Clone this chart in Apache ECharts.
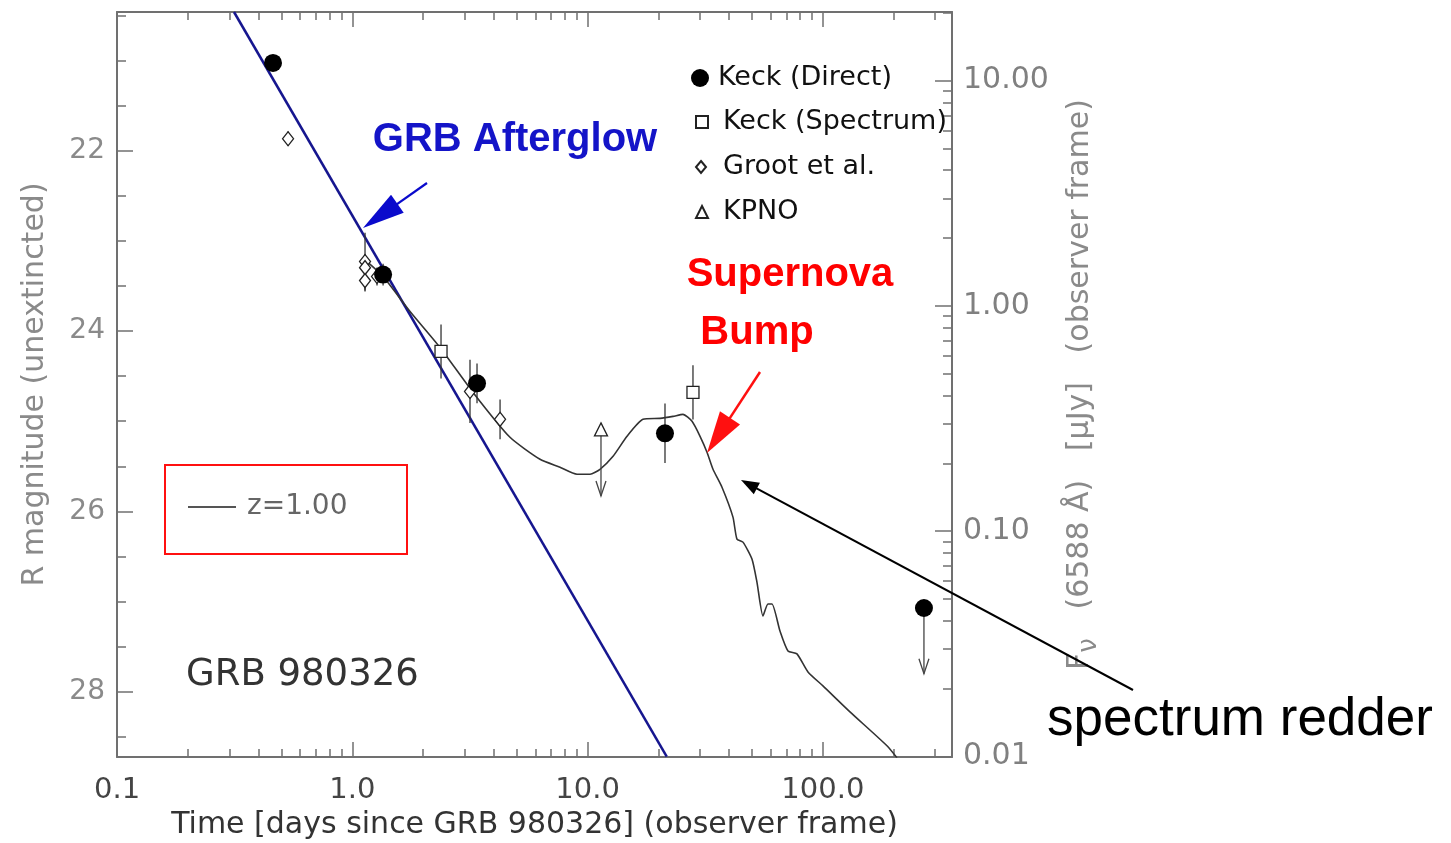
<!DOCTYPE html>
<html>
<head>
<meta charset="utf-8">
<script src="https://cdn.jsdelivr.net/npm/echarts@6/dist/echarts.min.js"></script>
<style>html,body{margin:0;padding:0;background:#fff}#c{width:1451px;height:843px}</style>
</head>
<body>
<div id="c"></div>
<script>
// ---------------- data ----------------
const keckDirectT   = [0.460, 1.351, 3.388, 21.33];
const keckDirectMag = [21.025, 23.373, 24.580, 25.134];
const keckDirectErr = [0.0, 0.12, 0.22, 0.33];
const keckLimitT    = [269.0];
const keckLimitMag  = [27.072];
const keckLimitDrop = [0.73];
const keckSpecT     = [2.382, 28.05];
const keckSpecMag   = [24.226, 24.680];
const keckSpecErr   = [0.30, 0.30];
const grootT        = [0.533, 1.132, 1.132, 1.132, 1.273, 3.163, 4.245];
const grootMag      = [21.867, 23.229, 23.296, 23.440, 23.395, 24.669, 24.979];
const grootErr      = [0.08, 0.32, 0.15, 0.12, 0.10, 0.35, 0.22];
const kpnoT         = [11.40];
const kpnoMag       = [25.090];
const kpnoDrop      = [0.74];
const afterglowT    = [0.314, 21.7];
const afterglowMag  = [20.46, 28.72];
const modelT   = [1.155, 1.351, 1.759, 2.358, 3.258, 4.679, 6.276, 7.631, 9.016, 10.24, 11.29, 12.83, 14.71, 17.20, 20.32, 23.07, 25.44, 27.79, 30.06, 32.18, 34.12, 37.26, 41.49, 43.14, 45.75, 49.96, 52.46, 55.65, 58.44, 60.77, 65.73, 71.08, 77.62, 86.45, 100.1, 130.4, 187.3, 206.5];
const modelMag = [23.229, 23.395, 23.783, 24.182, 24.680, 25.178, 25.422, 25.510, 25.588, 25.588, 25.533, 25.389, 25.167, 24.979, 24.968, 24.946, 24.924, 25.001, 25.167, 25.344, 25.533, 25.732, 26.064, 26.308, 26.341, 26.529, 26.784, 27.161, 27.028, 27.028, 27.327, 27.548, 27.581, 27.781, 27.936, 28.224, 28.600, 28.733];

const xLabelValues   = [0.1, 1, 10, 100];
const xMinorValues   = [0.2,0.3,0.4,0.5,0.6,0.7,0.8,0.9, 2,3,4,5,6,7,8,9, 20,30,40,50,60,70,80,90, 200,300];
const magLabelValues = [22, 24, 26, 28];
const magMinorValues = [20.5,21,21.5, 22.5,23,23.5, 24.5,25,25.5, 26.5,27,27.5, 28.5];
const fluxLabelValues = [10, 1, 0.1, 0.01];
const fluxMinorValues = [20, 9,8,7,6,5,4,3,2, 0.9,0.8,0.7,0.6,0.5,0.4,0.3,0.2, 0.09,0.08,0.07,0.06,0.05,0.04,0.03,0.02];
const R_ZERO_POINT = 23.72; // R mag of 1 microJy

// ---------------- helpers ----------------
const zip = (a, b, c) => a.map((v, i) => c ? [v, b[i], c[i]] : [v, b[i]]);
const fluxToMag = f => R_ZERO_POINT - 2.5 * Math.log10(f);
const magToFlux = m => Math.pow(10, -0.4 * (m - R_ZERO_POINT));

const FONT = 'DejaVu Sans';
const AX = '#707070';
const X_MIN = 0.0999, X_MAX = 354;
const Y_MIN = 20.46, Y_MAX = 28.725;

function xAx(pos, major, withLabel) {
  return {
    type: 'log', logBase: 10, position: pos, min: X_MIN, max: X_MAX,
    axisLine: { show: major, onZero: false, lineStyle: { color: AX, width: 2 } },
    axisTick: { show: true, inside: true, length: major ? 15 : 8,
      customValues: major ? xLabelValues : xMinorValues, lineStyle: { color: AX, width: 1.5 } },
    axisLabel: withLabel ? { show: true, customValues: xLabelValues, margin: 19,
      formatter: v => Number(v).toFixed(1), fontSize: 29, color: '#444', fontFamily: FONT } : { show: false },
    splitLine: { show: false }, minorTick: { show: false }, minorSplitLine: { show: false }
  };
}
function yMagAx(major) {
  return {
    type: 'value', position: 'left', inverse: true, min: Y_MIN, max: Y_MAX,
    axisLine: { show: major, onZero: false, lineStyle: { color: AX, width: 2 } },
    axisTick: { show: true, inside: true, length: major ? 16 : 9,
      customValues: major ? magLabelValues : magMinorValues, lineStyle: { color: AX, width: 1.5 } },
    axisLabel: major ? { show: true, customValues: magLabelValues, margin: 12, fontSize: 28,
      color: '#8a8a8a', fontFamily: FONT } : { show: false },
    splitLine: { show: false }
  };
}
function yFluxAx(major) {
  return {
    type: 'value', position: 'right', inverse: true, min: Y_MIN, max: Y_MAX,
    axisLine: { show: major, onZero: false, lineStyle: { color: AX, width: 2 } },
    axisTick: { show: true, inside: true, length: major ? 17 : 9,
      customValues: (major ? fluxLabelValues : fluxMinorValues).map(fluxToMag), lineStyle: { color: AX, width: 1.5 } },
    axisLabel: major ? { show: true, customValues: fluxLabelValues.map(fluxToMag), margin: 11,
      formatter: m => magToFlux(m).toFixed(2), fontSize: 30, color: '#808080', fontFamily: FONT } : { show: false },
    splitLine: { show: false }
  };
}

const xAxes = [xAx('bottom', true, true), xAx('bottom', false, false), xAx('top', true, false), xAx('top', false, false)];
xAxes[0].name = 'Time [days since GRB 980326] (observer frame)';
xAxes[0].nameLocation = 'middle';
xAxes[0].nameGap = 52;
xAxes[0].nameTextStyle = { fontSize: 30, color: '#333', fontFamily: FONT };

const yAxes = [yMagAx(true), yMagAx(false), yFluxAx(true), yFluxAx(false)];
yAxes[0].name = 'R magnitude (unextincted)';
yAxes[0].nameLocation = 'middle';
yAxes[0].nameGap = 67;
yAxes[0].nameRotate = 90;
yAxes[0].nameTextStyle = { fontSize: 30, color: '#8a8a8a', fontFamily: FONT };
yAxes[2].name = '{f|F}{s|ν}   (6588 Å)   [μJy]   (observer frame)';
yAxes[2].nameLocation = 'middle';
yAxes[2].nameGap = 106;
yAxes[2].nameRotate = 90;
yAxes[2].nameTextStyle = { fontSize: 30, color: '#8a8a8a', fontFamily: FONT,
  rich: { f: { fontSize: 30, color: '#8a8a8a', fontFamily: FONT, lineHeight: 44 },
          s: { fontSize: 26, color: '#8a8a8a', fontFamily: FONT, verticalAlign: 'bottom', lineHeight: 44 } } };

// error bars
function errRender(params, api) {
  const x = api.value(0), y = api.value(1), e = api.value(2);
  if (!e) return null;
  const p1 = api.coord([x, y - e]), p2 = api.coord([x, y + e]);
  return { type: 'line', shape: { x1: p1[0], y1: p1[1], x2: p2[0], y2: p2[1] },
    style: { stroke: '#333', lineWidth: 1.3 } };
}
// upper-limit arrows
function limitRender(params, api) {
  const x = api.value(0), y = api.value(1), d = api.value(2);
  const p1 = api.coord([x, y]), p2 = api.coord([x, y + d]);
  return { type: 'group', children: [
    { type: 'line', shape: { x1: p1[0], y1: p1[1], x2: p2[0], y2: p2[1] }, style: { stroke: '#444', lineWidth: 1.3 } },
    { type: 'polyline', shape: { points: [[p2[0] - 5, p2[1] - 15], [p2[0], p2[1]], [p2[0] + 5, p2[1] - 15]] },
      style: { stroke: '#444', lineWidth: 1.3, fill: null } }
  ] };
}

function arrow(x1, y1, x2, y2, headLen, headW, color, lw) {
  const dx = x2 - x1, dy = y2 - y1, L = Math.hypot(dx, dy), ux = dx / L, uy = dy / L;
  const bx = x2 - ux * headLen, by = y2 - uy * headLen;
  const px = -uy * headW / 2, py = ux * headW / 2;
  return [
    { type: 'line', silent: true, z: 100, shape: { x1: x1, y1: y1, x2: bx + ux * 3, y2: by + uy * 3 },
      style: { stroke: color, lineWidth: lw } },
    { type: 'polygon', silent: true, z: 100, shape: { points: [[x2, y2], [bx + px, by + py], [bx - px, by - py]] },
      style: { fill: color } }
  ];
}
function txt(x, y, text, font, fill, align) {
  return { type: 'text', x: x, y: y, z: 100, silent: true,
    style: { text: text, font: font, fill: fill, align: align || 'center', verticalAlign: 'middle' } };
}

const legendText = { fontSize: 27, color: '#111', fontFamily: FONT, lineHeight: 30, padding: [0, 0, 0, 4] };

const option = {
  animation: false,
  backgroundColor: '#fff',
  grid: { left: 117, right: 499, top: 12, bottom: 86, containLabel: false, outerBoundsMode: 'none' },
  title: { text: 'GRB 980326', left: 186, top: 657, padding: 0,
    textStyle: { fontSize: 37, fontWeight: 'normal', color: '#333', fontFamily: FONT } },
  legend: [
    { data: ['Keck (Direct)'], orient: 'vertical', left: 691, top: 63, padding: 0, itemWidth: 18, itemHeight: 18, textStyle: legendText, selectedMode: false },
    { data: ['Keck (Spectrum)'], orient: 'vertical', left: 695, top: 107, padding: 0, itemWidth: 12, itemHeight: 12, textStyle: Object.assign({}, legendText, { padding: [0, 0, 0, 10] }), selectedMode: false },
    { data: ['Groot et al.'], orient: 'vertical', left: 695, top: 152, padding: 0, itemWidth: 10, itemHeight: 12, textStyle: Object.assign({}, legendText, { padding: [0, 0, 0, 12] }), selectedMode: false },
    { data: ['KPNO'], orient: 'vertical', left: 695, top: 197, padding: 0, itemWidth: 12, itemHeight: 12, textStyle: Object.assign({}, legendText, { padding: [0, 0, 0, 10] }), selectedMode: false },
    { data: [{ name: 'z=1.00', icon: 'rect' }], orient: 'vertical', left: 188, top: 492, padding: 0, itemWidth: 48, itemHeight: 2,
      itemStyle: { color: '#555' },
      textStyle: { fontSize: 28, color: '#666', fontFamily: FONT, lineHeight: 30, padding: [0, 0, 0, 6] }, selectedMode: false }
  ],
  xAxis: xAxes,
  yAxis: yAxes,
  series: [
    { name: 'GRB Afterglow', type: 'line', data: zip(afterglowT, afterglowMag), symbol: 'none',
      lineStyle: { color: '#16168f', width: 2.5 }, itemStyle: { color: '#16168f' }, clip: true, z: 3 },
    { name: 'z=1.00', type: 'line', data: zip(modelT, modelMag), symbol: 'none', smooth: 0.2,
      lineStyle: { color: '#333', width: 1.6 }, itemStyle: { color: '#444' }, clip: true, z: 4 },
    { name: 'errKeck', type: 'custom', renderItem: errRender, data: zip(keckDirectT, keckDirectMag, keckDirectErr), z: 5, silent: true },
    { name: 'errSpec', type: 'custom', renderItem: errRender, data: zip(keckSpecT, keckSpecMag, keckSpecErr), z: 5, silent: true },
    { name: 'errGroot', type: 'custom', renderItem: errRender, data: zip(grootT, grootMag, grootErr), z: 5, silent: true },
    { name: 'limKeck', type: 'custom', renderItem: limitRender, data: zip(keckLimitT, keckLimitMag, keckLimitDrop), z: 5, silent: true },
    { name: 'limKpno', type: 'custom', renderItem: limitRender, data: zip(kpnoT, kpnoMag, kpnoDrop), z: 5, silent: true },
    { name: 'Groot et al.', type: 'scatter', data: zip(grootT, grootMag), symbol: 'diamond', symbolSize: [11, 14],
      itemStyle: { color: '#fff', borderColor: '#222', borderWidth: 1.3, opacity: 1 }, z: 6 },
    { name: 'Keck (Spectrum)', type: 'scatter', data: zip(keckSpecT, keckSpecMag), symbol: 'rect', symbolSize: 12,
      itemStyle: { color: '#fff', borderColor: '#222', borderWidth: 1.3, opacity: 1 }, z: 6 },
    { name: 'KPNO', type: 'scatter', data: zip(kpnoT, kpnoMag), symbol: 'triangle', symbolSize: 13,
      itemStyle: { color: '#fff', borderColor: '#222', borderWidth: 1.3, opacity: 1 }, z: 6 },
    { name: 'Keck (Direct)', type: 'scatter', data: zip(keckDirectT.concat(keckLimitT), keckDirectMag.concat(keckLimitMag)),
      symbol: 'circle', symbolSize: 18, itemStyle: { color: '#000', opacity: 1 }, z: 7 }
  ],
  graphic: [].concat(
    [ { type: 'rect', z: 100, silent: true, shape: { x: 165, y: 465, width: 242, height: 89 },
        style: { fill: null, stroke: '#ff1010', lineWidth: 2 } } ],
    arrow(427, 183, 363, 228, 42, 22, '#0a0acc', 2.2),
    arrow(760, 372, 707, 453, 42, 24, '#ff1010', 2.5),
    arrow(1133, 690, 741, 480, 18, 13, '#000', 2),
    [ txt(515, 140, 'GRB Afterglow', 'bold 40px "Liberation Sans", Arial, sans-serif', '#1414c8'),
      txt(790, 275, 'Supernova', 'bold 40px "Liberation Sans", Arial, sans-serif', '#ff0000'),
      txt(757, 333, 'Bump', 'bold 40px "Liberation Sans", Arial, sans-serif', '#ff0000'),
      txt(1240, 720, 'spectrum redder', '53px "Liberation Sans", Arial, sans-serif', '#000') ]
  )
};

const chart = echarts.init(document.getElementById('c'), null, { renderer: 'canvas' });
chart.setOption(option);
</script>
</body>
</html>
